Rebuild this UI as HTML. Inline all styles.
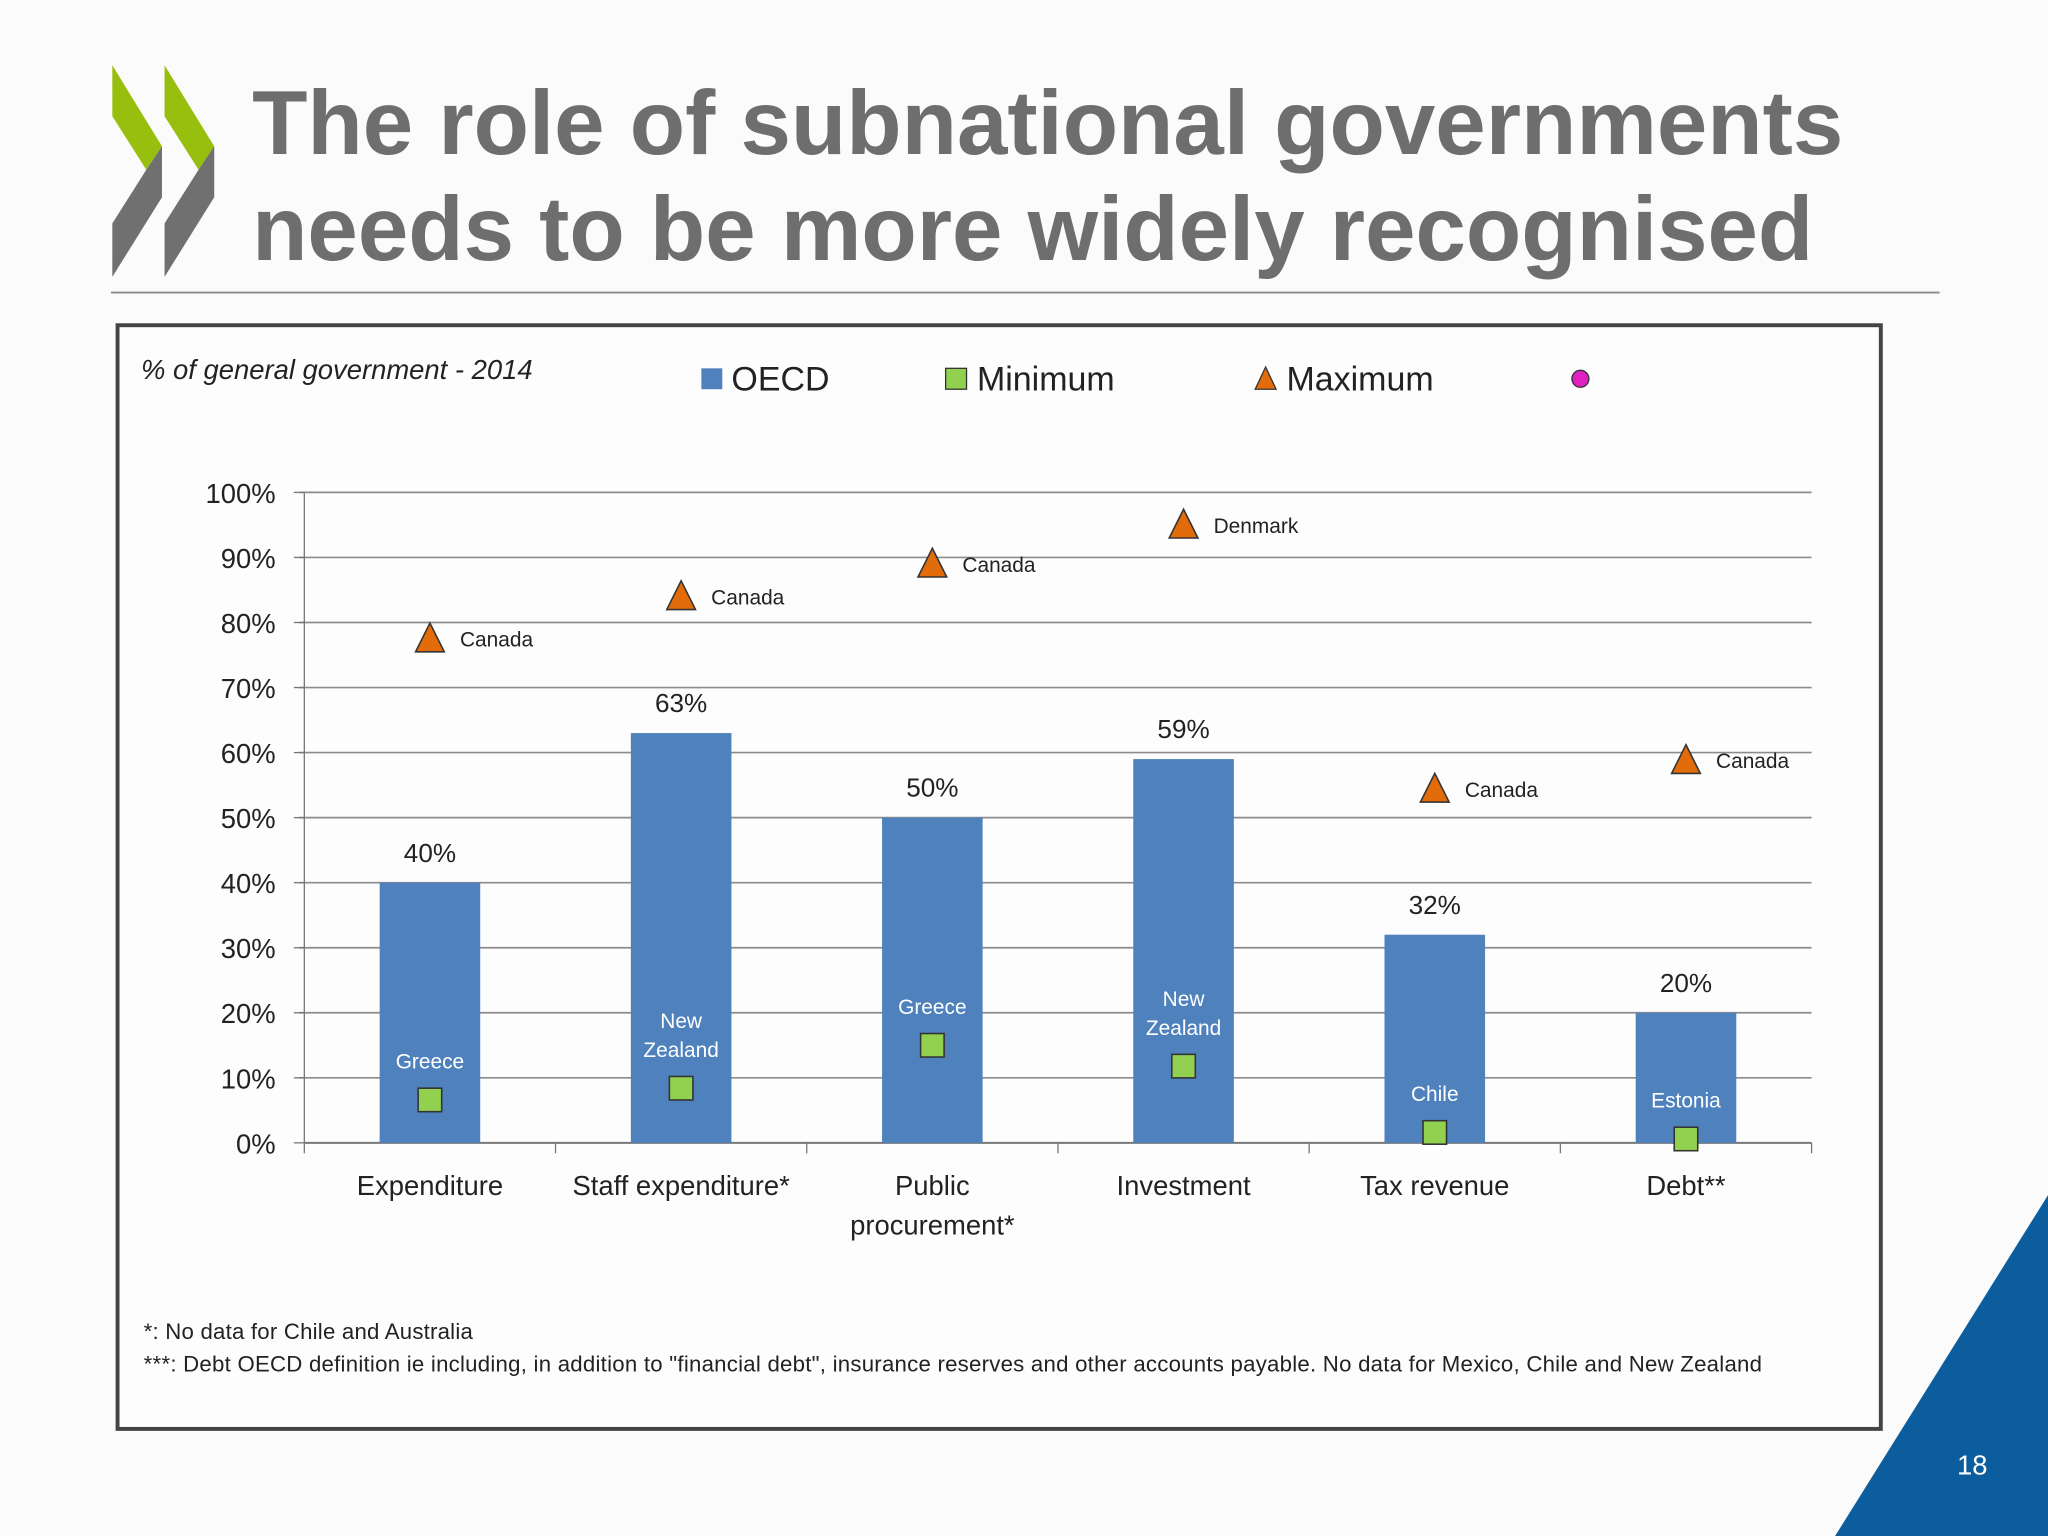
<!DOCTYPE html>
<html><head><meta charset="utf-8"><style>
html,body{margin:0;padding:0;background:#fbfbfb;}
svg{display:block;font-family:"Liberation Sans",sans-serif;}
</style></head><body>
<svg id="s" width="2048" height="1536" viewBox="0 0 1568 1176" xmlns="http://www.w3.org/2000/svg">
<rect width="1568" height="1176" fill="#fbfbfb"/>
<g>
 <polygon points="86,50 124,112 112,130 86,89" fill="#97bf0d"/>
 <polygon points="124,112 124,151 86,212 86,171 112,130" fill="#707070"/>
 <polygon points="126,50 164,112 152,130 126,89" fill="#97bf0d"/>
 <polygon points="164,112 164,151 126,212 126,171 152,130" fill="#707070"/>
</g>
<text x="193" y="118" font-size="69.4" font-weight="bold" fill="#6e6e6e">The role of subnational governments</text>
<text x="193" y="199" font-size="69.4" font-weight="bold" fill="#6e6e6e">needs to be more widely recognised</text>
<line x1="85" y1="224" x2="1485" y2="224" stroke="#8a8a8a" stroke-width="1.5"/>
<polygon points="1405,1176 1568,915 1568,1176" fill="#0b5d9e"/>
<text x="1510" y="1129" font-size="21" fill="#fff" text-anchor="middle">18</text>
<rect x="90" y="249" width="1350" height="845" fill="#fdfdfd" stroke="#444" stroke-width="3"/>
<text x="108" y="290" font-size="21" font-style="italic" fill="#222">% of general government - 2014</text>
<g>
 <rect x="537" y="282" width="16" height="16" fill="#4f81bd"/>
 <text x="560" y="299" font-size="26" fill="#222">OECD</text>
 <rect x="724" y="282" width="16" height="16" fill="#92d050" stroke="#333"/>
 <text x="748" y="299" font-size="26" fill="#222">Minimum</text>
 <polygon points="969,281 977,298 961,298" fill="#e36c0a" stroke="#333"/>
 <text x="985" y="299" font-size="26" fill="#222">Maximum</text>
 <circle cx="1210" cy="290" r="6.5" fill="#e020c0" stroke="#333"/>
</g>
<g id="chart"></g>
<text x="110" y="1025" font-size="17" fill="#222" textLength="252">*: No data for Chile and Australia</text>
<text x="110" y="1050" font-size="17" fill="#222" textLength="1239">***: Debt OECD definition ie including, in addition to "financial debt", insurance reserves and other accounts payable. No data for Mexico, Chile and New Zealand</text>
</svg>
<script>
const categories=[["Expenditure"],["Staff expenditure*"],["Public","procurement*"],["Investment"],["Tax revenue"],["Debt**"]];
const oecdValues=[40,63,50,59,32,20];
const minValues=[6.6,8.4,15,11.8,1.6,0.6];
const minLabels=[["Greece"],["New","Zealand"],["Greece"],["New","Zealand"],["Chile"],["Estonia"]];
const maxValues=[77.5,84,89,95,54.4,58.8];
const maxLabels=["Canada","Canada","Canada","Denmark","Canada","Canada"];
const yTicks=[0,10,20,30,40,50,60,70,80,90,100];

const NS="http://www.w3.org/2000/svg";
const g=document.getElementById('chart');
const X0=233,X1=1387,Y0=875,Y100=377;
const y=v=>Y0-(Y0-Y100)*v/100;
const step=(X1-X0)/categories.length;
const xc=i=>X0+step*(i+0.5);
function mk(tag,attrs,parent){const e=document.createElementNS(NS,tag);for(const k in attrs)e.setAttribute(k,attrs[k]);(parent||g).appendChild(e);return e;}
function txt(x,yy,s,size,fill,anchor){const e=mk('text',{x:x,y:yy,'font-size':size,fill:fill,'text-anchor':anchor||'middle'});e.textContent=s;return e;}

yTicks.forEach(t=>{
 const l=mk('line',{x1:t===0?X0:229,x2:X1,y1:y(t),y2:y(t),stroke:t===0?'#777':'#8c8c8c','stroke-width':t===0?1.5:1.3});
 
 
 const tk=mk('line',{x1:225,x2:X0,y1:y(t),y2:y(t),stroke:'#777'});
 
 
 const lb=txt(211,y(t)+8,t+'%',21,'#222','end');
 
 
});
const ax=mk('line',{x1:X0,x2:X0,y1:Y100,y2:Y0,stroke:'#777'});


for(let i=0;i<=categories.length;i++){
 const t=mk('line',{x1:X0+step*i,x2:X0+step*i,y1:Y0,y2:Y0+8,stroke:'#777'});
 
 
}
categories.forEach((c,i)=>{
 const cx=xc(i),bw=77;
 const b=mk('rect',{x:cx-bw/2,y:y(oecdValues[i]),width:bw,height:Y0-y(oecdValues[i]),fill:'#4f81bd'});
 
 
 const vl=txt(cx,y(oecdValues[i])-16,oecdValues[i]+'%',20,'#222');
 
 
 c.forEach((line,j)=>{const t=txt(cx,915+j*30,line,21,'#222');
  
  });
 const my=y(minValues[i]);
 const sq=mk('rect',{x:cx-9,y:my-9,width:18,height:18,fill:'#92d050',stroke:'#333','stroke-width':1.2});
 
 
 const ml=minLabels[i];
 ml.forEach((line,j)=>{const t=txt(cx,my-24-(ml.length-1-j)*22,line,16,'#ffffff');
  
  });
 const ty=y(maxValues[i]);
 const tr=mk('polygon',{points:`${cx},${ty-12} ${cx+11},${ty+10} ${cx-11},${ty+10}`,fill:'#e36c0a',stroke:'#333','stroke-width':1.2});
 
 
 const tl=txt(cx+23,ty+6,maxLabels[i],16,'#222','start');
 
 
});
</script>
</body></html>
